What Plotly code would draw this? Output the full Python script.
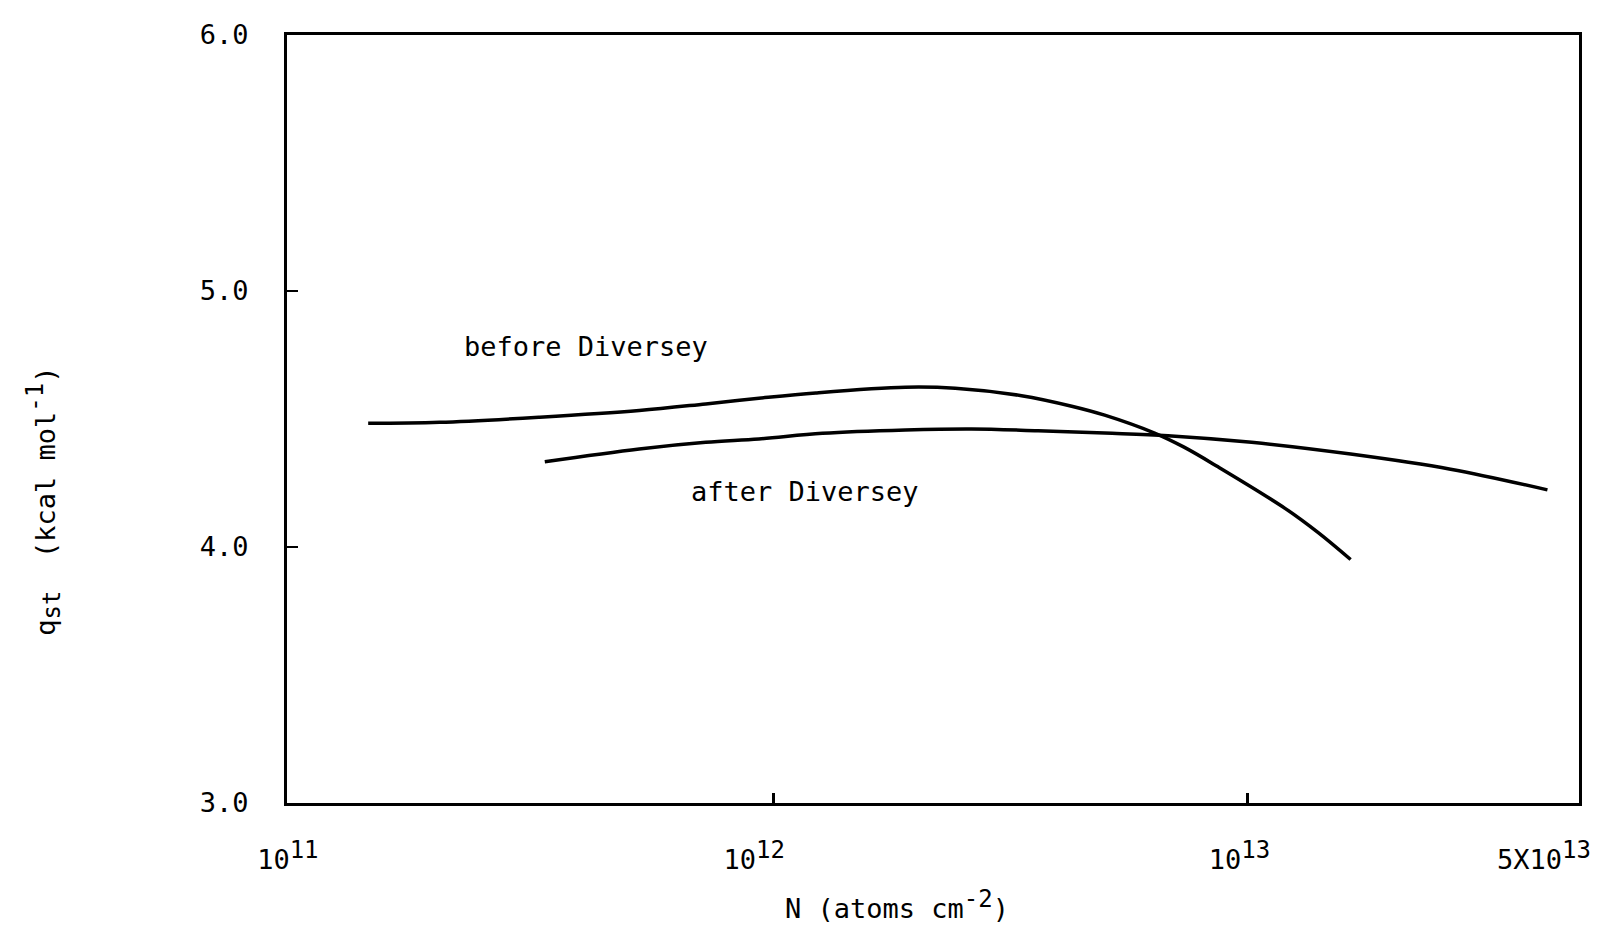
import plotly.graph_objects as go

# Isosteric heat of adsorption vs. coverage, before and after Diversey treatment
N_before = [1.40e11, 1.98e11, 3.22e11, 5.22e11, 7.21e11, 9.33e11, 1.23e12, 1.90e12,
            2.42e12, 3.34e12, 4.26e12, 5.00e12, 6.37e12, 7.35e12, 8.67e12, 1.20e13,
            1.41e13, 1.65e13]
q_before = [4.483, 4.487, 4.507, 4.533, 4.559, 4.581, 4.602, 4.624,
            4.620, 4.591, 4.550, 4.515, 4.445, 4.390, 4.313, 4.151,
            4.056, 3.951]

N_after = [3.30e11, 5.22e11, 7.21e11, 9.33e11, 1.27e12, 1.90e12, 2.62e12, 3.62e12,
           5.00e12, 6.80e12, 1.02e13, 1.65e13, 2.68e13, 4.29e13]
q_after = [4.333, 4.383, 4.409, 4.422, 4.444, 4.457, 4.461, 4.454,
           4.445, 4.435, 4.409, 4.363, 4.304, 4.223]

FONT = "DejaVu Sans Mono"
FS = 27


def sup(s):
    # typewriter-style raised exponent, nearly full size
    return f"<sup><span style='font-size:24px'>{s}</span></sup>"


def sub(s):
    return f"<sub><span style='font-size:24px'>{s}</span></sub>"


x_tick_vals = [1e11, 1e12, 1e13, 5e13]
x_tick_text = ["10" + sup("11"), "10" + sup("12"), "10" + sup("13"), "5X10" + sup("13")]
x_tick_shift = [-11, -19, -8, -35]
y_tick_vals = [3.0, 4.0, 5.0, 6.0]
y_tick_text = ["3.0", "4.0", "5.0", "6.0"]

X_RANGE = [10.975, 13.699]

fig = go.Figure()
line = dict(color="black", width=3.5, shape="spline", smoothing=1.0)
fig.add_trace(go.Scatter(x=N_before, y=q_before, mode="lines", line=line,
                         showlegend=False, hoverinfo="skip"))
fig.add_trace(go.Scatter(x=N_after, y=q_after, mode="lines", line=line,
                         showlegend=False, hoverinfo="skip"))

layout = dict(
    width=1603, height=927,
    margin=dict(l=287, r=21, t=35, b=124),
    paper_bgcolor="white", plot_bgcolor="white",
    font=dict(family=FONT, size=FS, color="black"),
    xaxis=dict(type="log", range=X_RANGE, showline=True, mirror=True,
               linewidth=3, linecolor="black", showgrid=False, zeroline=False,
               ticks="inside", tickvals=[1e12, 1e13], ticklen=10, tickwidth=3,
               tickcolor="black", showticklabels=False),
    yaxis=dict(range=[3, 6], showline=True, mirror=True, linewidth=3,
               linecolor="black", showgrid=False, zeroline=False,
               ticks="inside", tickvals=y_tick_vals, ticktext=y_tick_text,
               ticklen=11, tickwidth=2, tickcolor="black",
               ticklabelstandoff=30, tickfont=dict(family=FONT, size=FS)),
)

# one overlay axis per bottom label so each can carry its own offset
for i, (v, t, s) in enumerate(zip(x_tick_vals, x_tick_text, x_tick_shift)):
    name = f"x{i + 2}"
    fig.add_trace(go.Scatter(x=[], y=[], xaxis=name, yaxis="y",
                             showlegend=False, hoverinfo="skip"))
    layout[f"xaxis{i + 2}"] = dict(
        type="log", range=X_RANGE, overlaying="x", anchor="y", side="bottom",
        showline=False, showgrid=False, zeroline=False, ticks="",
        tickvals=[v], ticktext=[t], ticklabelshift=s, ticklabelstandoff=38,
        tickfont=dict(family=FONT, size=FS))

fig.update_layout(**layout)

fig.add_annotation(text="N (atoms cm" + sup("-2") + ")", xref="paper", yref="paper",
                   x=0.4718, y=-0.132, xanchor="center", yanchor="middle",
                   showarrow=False, font=dict(family=FONT, size=FS))
fig.add_annotation(text="q" + sub("st") + "  (kcal mol" + sup("-1") + ")",
                   xref="paper", yref="paper",
                   x=-0.1884, y=0.393, xanchor="center", yanchor="middle",
                   textangle=-90, showarrow=False, font=dict(family=FONT, size=FS))
fig.add_annotation(text="before Diversey", xref="x", yref="y", x=11.345, y=4.782,
                   xanchor="left", yanchor="middle", showarrow=False,
                   font=dict(family=FONT, size=FS))
fig.add_annotation(text="after Diversey", xref="x", yref="y", x=11.823, y=4.218,
                   xanchor="left", yanchor="middle", showarrow=False,
                   font=dict(family=FONT, size=FS))

fig.write_html("out.html")
